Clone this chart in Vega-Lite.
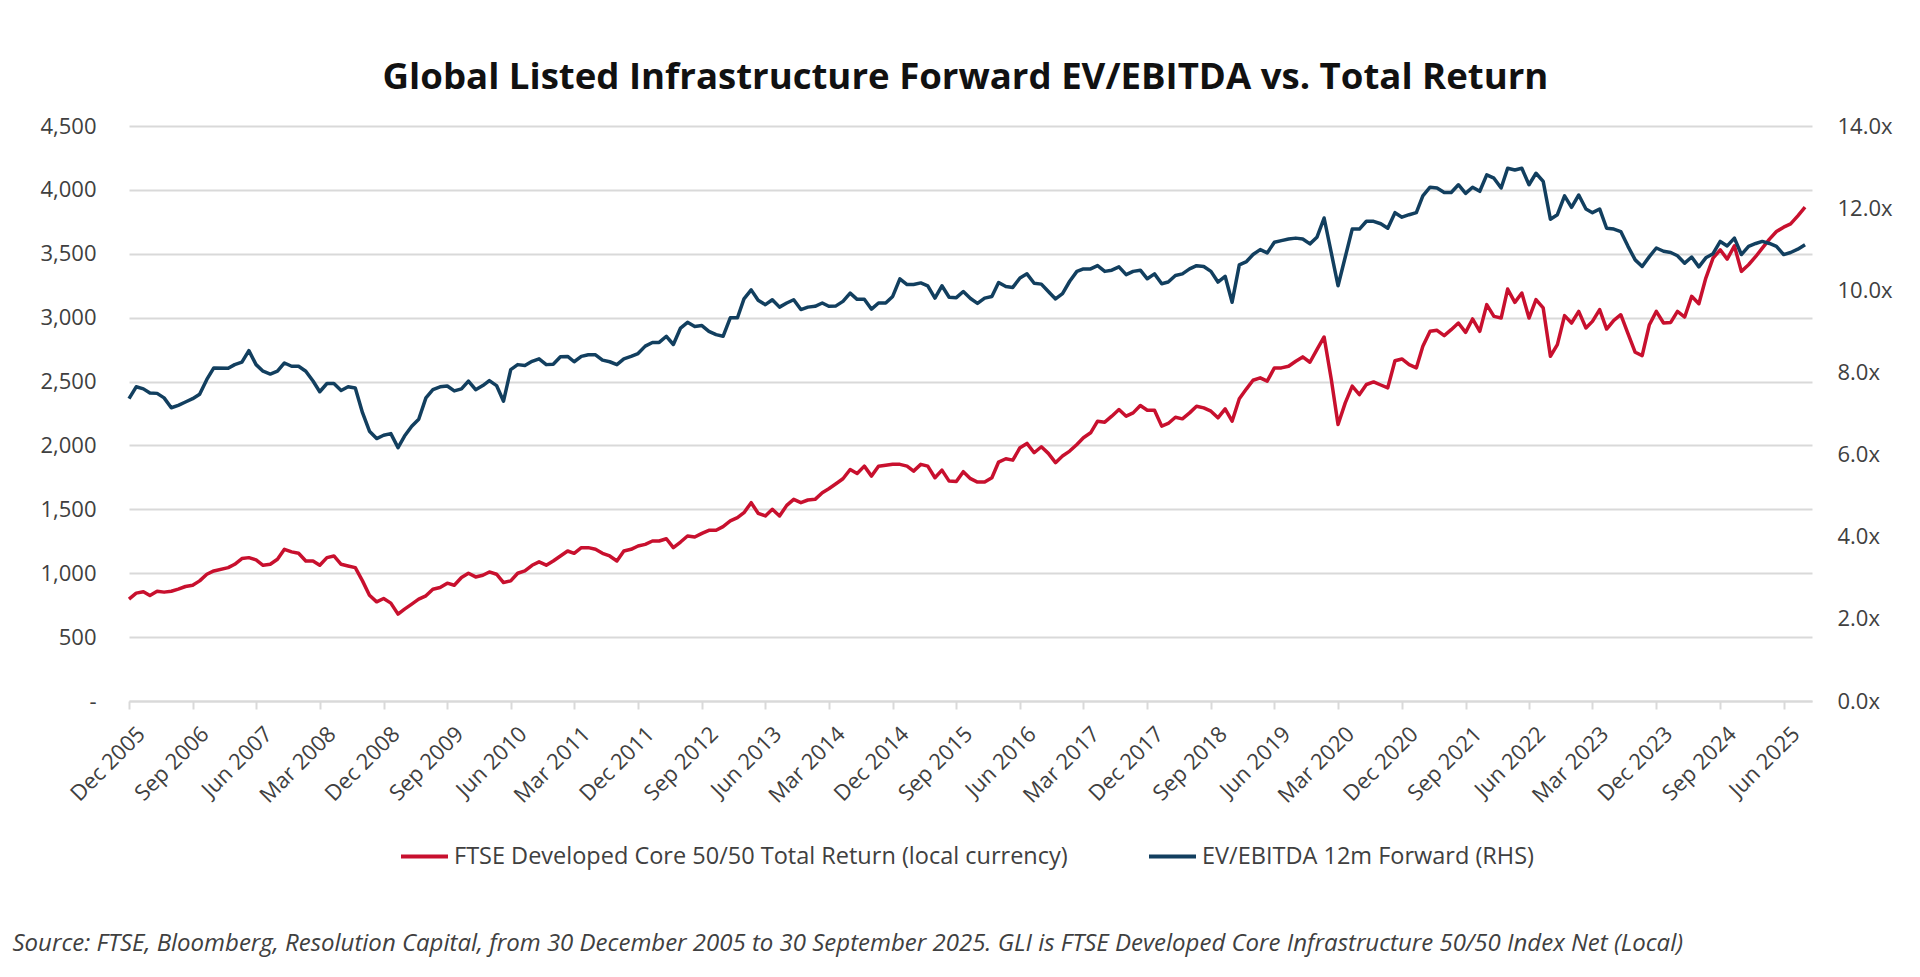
{
  "$schema": "https://vega.github.io/schema/vega-lite/v6.json",
  "width": 1683,
  "height": 575,
  "autosize": {"type": "none"},
  "padding": {"left": 129, "top": 126, "right": 108, "bottom": 276},
  "background": "white",
  "title": {
    "text": "Global Listed Infrastructure Forward EV/EBITDA vs. Total Return",
    "font": "Open Sans",
    "fontSize": 36.6,
    "fontWeight": "bold",
    "color": "#111111",
    "anchor": "middle",
    "frame": "group",
    "offset": 18,
    "dx": -5
  },
  "data": {
    "values": [
      {"d": "2005-12", "tr": 797, "ev": 7.36},
      {"d": "2006-01", "tr": 844, "ev": 7.65},
      {"d": "2006-02", "tr": 855, "ev": 7.6},
      {"d": "2006-03", "tr": 826, "ev": 7.5},
      {"d": "2006-04", "tr": 859, "ev": 7.49},
      {"d": "2006-05", "tr": 852, "ev": 7.38},
      {"d": "2006-06", "tr": 859, "ev": 7.14},
      {"d": "2006-07", "tr": 875, "ev": 7.2},
      {"d": "2006-08", "tr": 896, "ev": 7.28},
      {"d": "2006-09", "tr": 906, "ev": 7.36},
      {"d": "2006-10", "tr": 940, "ev": 7.47},
      {"d": "2006-11", "tr": 992, "ev": 7.83},
      {"d": "2006-12", "tr": 1018, "ev": 8.11},
      {"d": "2007-02", "tr": 1044, "ev": 8.1},
      {"d": "2007-03", "tr": 1070, "ev": 8.19},
      {"d": "2007-04", "tr": 1115, "ev": 8.25},
      {"d": "2007-05", "tr": 1122, "ev": 8.53},
      {"d": "2007-06", "tr": 1104, "ev": 8.19},
      {"d": "2007-07", "tr": 1062, "ev": 8.03},
      {"d": "2007-08", "tr": 1070, "ev": 7.96},
      {"d": "2007-09", "tr": 1109, "ev": 8.03},
      {"d": "2007-10", "tr": 1187, "ev": 8.23},
      {"d": "2007-11", "tr": 1167, "ev": 8.15},
      {"d": "2007-12", "tr": 1156, "ev": 8.15},
      {"d": "2008-01", "tr": 1096, "ev": 8.03},
      {"d": "2008-02", "tr": 1096, "ev": 7.79},
      {"d": "2008-03", "tr": 1062, "ev": 7.53},
      {"d": "2008-04", "tr": 1122, "ev": 7.73},
      {"d": "2008-05", "tr": 1135, "ev": 7.73},
      {"d": "2008-06", "tr": 1070, "ev": 7.56},
      {"d": "2008-07", "tr": 1057, "ev": 7.65},
      {"d": "2008-08", "tr": 1044, "ev": 7.62},
      {"d": "2008-09", "tr": 940, "ev": 7.02},
      {"d": "2008-10", "tr": 828, "ev": 6.57},
      {"d": "2008-11", "tr": 776, "ev": 6.39},
      {"d": "2008-12", "tr": 802, "ev": 6.47},
      {"d": "2009-01", "tr": 766, "ev": 6.51},
      {"d": "2009-02", "tr": 680, "ev": 6.17},
      {"d": "2009-03", "tr": 719, "ev": 6.45},
      {"d": "2009-04", "tr": 758, "ev": 6.69},
      {"d": "2009-05", "tr": 797, "ev": 6.86},
      {"d": "2009-06", "tr": 823, "ev": 7.38},
      {"d": "2009-07", "tr": 875, "ev": 7.58},
      {"d": "2009-08", "tr": 888, "ev": 7.65},
      {"d": "2009-09", "tr": 922, "ev": 7.67},
      {"d": "2009-10", "tr": 906, "ev": 7.55},
      {"d": "2009-11", "tr": 966, "ev": 7.6},
      {"d": "2009-12", "tr": 1000, "ev": 7.79},
      {"d": "2010-01", "tr": 971, "ev": 7.58},
      {"d": "2010-02", "tr": 984, "ev": 7.68},
      {"d": "2010-03", "tr": 1010, "ev": 7.8},
      {"d": "2010-04", "tr": 992, "ev": 7.68},
      {"d": "2010-05", "tr": 927, "ev": 7.3},
      {"d": "2010-06", "tr": 940, "ev": 8.07},
      {"d": "2010-07", "tr": 1000, "ev": 8.19},
      {"d": "2010-08", "tr": 1018, "ev": 8.17},
      {"d": "2010-09", "tr": 1062, "ev": 8.27},
      {"d": "2010-10", "tr": 1089, "ev": 8.33},
      {"d": "2010-11", "tr": 1063, "ev": 8.19},
      {"d": "2010-12", "tr": 1096, "ev": 8.2},
      {"d": "2011-01", "tr": 1135, "ev": 8.38},
      {"d": "2011-02", "tr": 1174, "ev": 8.39},
      {"d": "2011-03", "tr": 1156, "ev": 8.26},
      {"d": "2011-04", "tr": 1200, "ev": 8.39},
      {"d": "2011-05", "tr": 1200, "ev": 8.43},
      {"d": "2011-06", "tr": 1187, "ev": 8.43},
      {"d": "2011-07", "tr": 1156, "ev": 8.3},
      {"d": "2011-08", "tr": 1135, "ev": 8.26},
      {"d": "2011-09", "tr": 1096, "ev": 8.19},
      {"d": "2011-10", "tr": 1174, "ev": 8.33},
      {"d": "2011-11", "tr": 1187, "ev": 8.39},
      {"d": "2011-12", "tr": 1213, "ev": 8.46},
      {"d": "2012-01", "tr": 1226, "ev": 8.64},
      {"d": "2012-02", "tr": 1252, "ev": 8.73},
      {"d": "2012-03", "tr": 1252, "ev": 8.73},
      {"d": "2012-04", "tr": 1270, "ev": 8.88},
      {"d": "2012-05", "tr": 1200, "ev": 8.68},
      {"d": "2012-06", "tr": 1244, "ev": 9.08},
      {"d": "2012-07", "tr": 1291, "ev": 9.22},
      {"d": "2012-08", "tr": 1283, "ev": 9.12},
      {"d": "2012-09", "tr": 1312, "ev": 9.14},
      {"d": "2012-10", "tr": 1336, "ev": 9.0},
      {"d": "2012-11", "tr": 1336, "ev": 8.92},
      {"d": "2012-12", "tr": 1365, "ev": 8.88},
      {"d": "2013-01", "tr": 1409, "ev": 9.33},
      {"d": "2013-02", "tr": 1435, "ev": 9.33},
      {"d": "2013-03", "tr": 1474, "ev": 9.79},
      {"d": "2013-04", "tr": 1552, "ev": 10.01},
      {"d": "2013-05", "tr": 1469, "ev": 9.76},
      {"d": "2013-06", "tr": 1448, "ev": 9.65},
      {"d": "2013-07", "tr": 1500, "ev": 9.77},
      {"d": "2013-08", "tr": 1448, "ev": 9.59},
      {"d": "2013-09", "tr": 1531, "ev": 9.69},
      {"d": "2013-10", "tr": 1578, "ev": 9.77},
      {"d": "2013-11", "tr": 1552, "ev": 9.53},
      {"d": "2013-12", "tr": 1573, "ev": 9.59},
      {"d": "2014-01", "tr": 1578, "ev": 9.61},
      {"d": "2014-02", "tr": 1630, "ev": 9.69},
      {"d": "2014-03", "tr": 1661, "ev": 9.61},
      {"d": "2014-04", "tr": 1700, "ev": 9.62},
      {"d": "2014-05", "tr": 1739, "ev": 9.73},
      {"d": "2014-06", "tr": 1812, "ev": 9.93},
      {"d": "2014-07", "tr": 1781, "ev": 9.78},
      {"d": "2014-08", "tr": 1838, "ev": 9.78},
      {"d": "2014-09", "tr": 1760, "ev": 9.54},
      {"d": "2014-10", "tr": 1838, "ev": 9.69},
      {"d": "2014-11", "tr": 1845, "ev": 9.69},
      {"d": "2014-12", "tr": 1852, "ev": 9.85},
      {"d": "2015-01", "tr": 1852, "ev": 10.28},
      {"d": "2015-02", "tr": 1838, "ev": 10.14},
      {"d": "2015-03", "tr": 1799, "ev": 10.14},
      {"d": "2015-04", "tr": 1852, "ev": 10.18},
      {"d": "2015-05", "tr": 1838, "ev": 10.11},
      {"d": "2015-06", "tr": 1747, "ev": 9.81},
      {"d": "2015-07", "tr": 1807, "ev": 10.11},
      {"d": "2015-08", "tr": 1721, "ev": 9.83},
      {"d": "2015-09", "tr": 1717, "ev": 9.82},
      {"d": "2015-10", "tr": 1795, "ev": 9.97},
      {"d": "2015-11", "tr": 1740, "ev": 9.8},
      {"d": "2015-12", "tr": 1713, "ev": 9.68},
      {"d": "2016-01", "tr": 1713, "ev": 9.81},
      {"d": "2016-02", "tr": 1747, "ev": 9.85},
      {"d": "2016-03", "tr": 1870, "ev": 10.19},
      {"d": "2016-04", "tr": 1896, "ev": 10.09},
      {"d": "2016-05", "tr": 1885, "ev": 10.07},
      {"d": "2016-06", "tr": 1982, "ev": 10.3},
      {"d": "2016-07", "tr": 2016, "ev": 10.4},
      {"d": "2016-08", "tr": 1943, "ev": 10.17},
      {"d": "2016-09", "tr": 1990, "ev": 10.15},
      {"d": "2016-10", "tr": 1938, "ev": 9.97},
      {"d": "2016-11", "tr": 1865, "ev": 9.79},
      {"d": "2016-12", "tr": 1917, "ev": 9.92},
      {"d": "2017-01", "tr": 1956, "ev": 10.22},
      {"d": "2017-02", "tr": 2008, "ev": 10.46},
      {"d": "2017-03", "tr": 2060, "ev": 10.52},
      {"d": "2017-04", "tr": 2099, "ev": 10.52},
      {"d": "2017-05", "tr": 2190, "ev": 10.6},
      {"d": "2017-06", "tr": 2182, "ev": 10.46},
      {"d": "2017-07", "tr": 2229, "ev": 10.49},
      {"d": "2017-08", "tr": 2281, "ev": 10.57},
      {"d": "2017-09", "tr": 2229, "ev": 10.38},
      {"d": "2017-10", "tr": 2255, "ev": 10.46},
      {"d": "2017-11", "tr": 2313, "ev": 10.49},
      {"d": "2017-12", "tr": 2276, "ev": 10.28},
      {"d": "2018-01", "tr": 2276, "ev": 10.4},
      {"d": "2018-02", "tr": 2151, "ev": 10.16},
      {"d": "2018-03", "tr": 2172, "ev": 10.2},
      {"d": "2018-04", "tr": 2221, "ev": 10.36},
      {"d": "2018-05", "tr": 2208, "ev": 10.4},
      {"d": "2018-06", "tr": 2255, "ev": 10.52},
      {"d": "2018-07", "tr": 2307, "ev": 10.6},
      {"d": "2018-08", "tr": 2294, "ev": 10.58},
      {"d": "2018-09", "tr": 2268, "ev": 10.46},
      {"d": "2018-10", "tr": 2216, "ev": 10.2},
      {"d": "2018-11", "tr": 2286, "ev": 10.34},
      {"d": "2018-12", "tr": 2190, "ev": 9.71},
      {"d": "2019-01", "tr": 2365, "ev": 10.62},
      {"d": "2019-02", "tr": 2443, "ev": 10.7},
      {"d": "2019-03", "tr": 2510, "ev": 10.87},
      {"d": "2019-04", "tr": 2529, "ev": 10.99},
      {"d": "2019-05", "tr": 2503, "ev": 10.91},
      {"d": "2019-06", "tr": 2607, "ev": 11.17},
      {"d": "2019-07", "tr": 2607, "ev": 11.21},
      {"d": "2019-08", "tr": 2620, "ev": 11.25},
      {"d": "2019-09", "tr": 2659, "ev": 11.27},
      {"d": "2019-10", "tr": 2693, "ev": 11.25},
      {"d": "2019-11", "tr": 2651, "ev": 11.13},
      {"d": "2019-12", "tr": 2750, "ev": 11.29},
      {"d": "2020-01", "tr": 2849, "ev": 11.76},
      {"d": "2020-02", "tr": 2516, "ev": 10.91},
      {"d": "2020-03", "tr": 2164, "ev": 10.11},
      {"d": "2020-04", "tr": 2333, "ev": 10.81},
      {"d": "2020-05", "tr": 2464, "ev": 11.49},
      {"d": "2020-06", "tr": 2398, "ev": 11.49},
      {"d": "2020-07", "tr": 2477, "ev": 11.68},
      {"d": "2020-08", "tr": 2497, "ev": 11.68},
      {"d": "2020-09", "tr": 2473, "ev": 11.62},
      {"d": "2020-10", "tr": 2451, "ev": 11.51},
      {"d": "2020-11", "tr": 2663, "ev": 11.89},
      {"d": "2020-12", "tr": 2677, "ev": 11.78},
      {"d": "2021-01", "tr": 2633, "ev": 11.84},
      {"d": "2021-02", "tr": 2607, "ev": 11.89},
      {"d": "2021-03", "tr": 2776, "ev": 12.3},
      {"d": "2021-04", "tr": 2893, "ev": 12.51},
      {"d": "2021-05", "tr": 2901, "ev": 12.49},
      {"d": "2021-06", "tr": 2859, "ev": 12.38},
      {"d": "2021-07", "tr": 2906, "ev": 12.38},
      {"d": "2021-08", "tr": 2958, "ev": 12.57},
      {"d": "2021-09", "tr": 2885, "ev": 12.36},
      {"d": "2021-10", "tr": 2990, "ev": 12.51},
      {"d": "2021-11", "tr": 2893, "ev": 12.41},
      {"d": "2021-12", "tr": 3102, "ev": 12.81},
      {"d": "2022-01", "tr": 3010, "ev": 12.73},
      {"d": "2022-02", "tr": 2997, "ev": 12.49},
      {"d": "2022-03", "tr": 3224, "ev": 12.97},
      {"d": "2022-04", "tr": 3120, "ev": 12.93},
      {"d": "2022-05", "tr": 3193, "ev": 12.97},
      {"d": "2022-06", "tr": 2997, "ev": 12.57},
      {"d": "2022-07", "tr": 3141, "ev": 12.85},
      {"d": "2022-08", "tr": 3076, "ev": 12.65},
      {"d": "2022-09", "tr": 2698, "ev": 11.73},
      {"d": "2022-10", "tr": 2789, "ev": 11.84},
      {"d": "2022-11", "tr": 3016, "ev": 12.3},
      {"d": "2022-12", "tr": 2958, "ev": 12.02},
      {"d": "2023-01", "tr": 3049, "ev": 12.32},
      {"d": "2023-02", "tr": 2919, "ev": 11.98},
      {"d": "2023-03", "tr": 2971, "ev": 11.89},
      {"d": "2023-04", "tr": 3063, "ev": 11.98},
      {"d": "2023-05", "tr": 2911, "ev": 11.51},
      {"d": "2023-06", "tr": 2979, "ev": 11.49},
      {"d": "2023-07", "tr": 3023, "ev": 11.43},
      {"d": "2023-08", "tr": 2875, "ev": 11.07},
      {"d": "2023-09", "tr": 2729, "ev": 10.74},
      {"d": "2023-10", "tr": 2703, "ev": 10.58},
      {"d": "2023-11", "tr": 2945, "ev": 10.82},
      {"d": "2023-12", "tr": 3049, "ev": 11.03},
      {"d": "2024-01", "tr": 2958, "ev": 10.95},
      {"d": "2024-02", "tr": 2963, "ev": 10.92},
      {"d": "2024-03", "tr": 3049, "ev": 10.84},
      {"d": "2024-04", "tr": 3005, "ev": 10.66},
      {"d": "2024-05", "tr": 3167, "ev": 10.81},
      {"d": "2024-06", "tr": 3109, "ev": 10.57},
      {"d": "2024-07", "tr": 3310, "ev": 10.79},
      {"d": "2024-08", "tr": 3466, "ev": 10.89},
      {"d": "2024-09", "tr": 3531, "ev": 11.19},
      {"d": "2024-10", "tr": 3458, "ev": 11.08},
      {"d": "2024-11", "tr": 3562, "ev": 11.27},
      {"d": "2024-12", "tr": 3362, "ev": 10.87},
      {"d": "2025-01", "tr": 3414, "ev": 11.07},
      {"d": "2025-02", "tr": 3479, "ev": 11.14},
      {"d": "2025-03", "tr": 3544, "ev": 11.19},
      {"d": "2025-04", "tr": 3615, "ev": 11.14},
      {"d": "2025-05", "tr": 3674, "ev": 11.07},
      {"d": "2025-06", "tr": 3708, "ev": 10.87},
      {"d": "2025-07", "tr": 3734, "ev": 10.92},
      {"d": "2025-08", "tr": 3797, "ev": 11.0},
      {"d": "2025-09", "tr": 3865, "ev": 11.11}
    ]
  },
  "encoding": {
    "x": {
      "field": "d",
      "type": "temporal",
      "scale": {
        "type": "utc",
        "domain": [
          {"year": 2005, "month": 12, "date": 1, "utc": true},
          {"year": 2025, "month": 10, "date": 1, "utc": true}
        ]
      },
      "axis": {
        "title": "Source: FTSE, Bloomberg, Resolution Capital, from 30 December 2005 to 30 September 2025. GLI is FTSE Developed Core Infrastructure 50/50 Index Net (Local)",
        "titleFont": "Open Sans",
        "titleFontSize": 24,
        "titleFontStyle": "italic",
        "titleFontWeight": "normal",
        "titleColor": "#404040",
        "titleAnchor": "start",
        "titleAlign": "left",
        "titleBaseline": "middle",
        "titleX": -117,
        "titleY": 242,
        "format": "%b %Y",
        "labelAngle": -45,
        "labelAlign": "right",
        "labelBaseline": "top",
        "labelPadding": 14,
        "labelOffset": 5,
        "labelOverlap": false,
        "labelBound": false,
        "grid": false,
        "domain": true,
        "domainColor": "#D9D9D9",
        "domainWidth": 2,
        "ticks": true,
        "tickColor": "#D9D9D9",
        "tickWidth": 2,
        "tickSize": 8,
        "values": [
          {"year": 2005, "month": 12, "date": 1, "utc": true},
          {"year": 2006, "month": 9, "date": 1, "utc": true},
          {"year": 2007, "month": 6, "date": 1, "utc": true},
          {"year": 2008, "month": 3, "date": 1, "utc": true},
          {"year": 2008, "month": 12, "date": 1, "utc": true},
          {"year": 2009, "month": 9, "date": 1, "utc": true},
          {"year": 2010, "month": 6, "date": 1, "utc": true},
          {"year": 2011, "month": 3, "date": 1, "utc": true},
          {"year": 2011, "month": 12, "date": 1, "utc": true},
          {"year": 2012, "month": 9, "date": 1, "utc": true},
          {"year": 2013, "month": 6, "date": 1, "utc": true},
          {"year": 2014, "month": 3, "date": 1, "utc": true},
          {"year": 2014, "month": 12, "date": 1, "utc": true},
          {"year": 2015, "month": 9, "date": 1, "utc": true},
          {"year": 2016, "month": 6, "date": 1, "utc": true},
          {"year": 2017, "month": 3, "date": 1, "utc": true},
          {"year": 2017, "month": 12, "date": 1, "utc": true},
          {"year": 2018, "month": 9, "date": 1, "utc": true},
          {"year": 2019, "month": 6, "date": 1, "utc": true},
          {"year": 2020, "month": 3, "date": 1, "utc": true},
          {"year": 2020, "month": 12, "date": 1, "utc": true},
          {"year": 2021, "month": 9, "date": 1, "utc": true},
          {"year": 2022, "month": 6, "date": 1, "utc": true},
          {"year": 2023, "month": 3, "date": 1, "utc": true},
          {"year": 2023, "month": 12, "date": 1, "utc": true},
          {"year": 2024, "month": 9, "date": 1, "utc": true},
          {"year": 2025, "month": 6, "date": 1, "utc": true}
        ]
      }
    }
  },
  "layer": [
    {
      "mark": {"type": "line", "strokeWidth": 3.5, "strokeJoin": "round"},
      "encoding": {
        "y": {
          "field": "tr",
          "type": "quantitative",
          "scale": {"domain": [0, 4500]},
          "axis": {
            "orient": "left",
            "title": null,
            "values": [0, 500, 1000, 1500, 2000, 2500, 3000, 3500, 4000, 4500],
            "labelExpr": "datum.value == 0 ? '-\u00a0\u00a0\u00a0' : format(datum.value, ',')",
            "labelPadding": 33,
            "domain": false,
            "ticks": false,
            "grid": true,
            "gridColor": "#D9D9D9",
            "gridWidth": 2
          }
        },
        "color": {
          "datum": "FTSE Developed Core 50/50 Total Return (local currency)",
          "scale": {
            "domain": ["FTSE Developed Core 50/50 Total Return (local currency)", "EV/EBITDA 12m Forward (RHS)"],
            "range": ["#C8102E", "#123F5F"]
          },
          "legend": {
            "title": null,
            "orient": "none",
            "direction": "horizontal",
            "legendX": 270,
            "legendY": 705,
            "symbolType": "stroke",
            "symbolSize": 2209,
            "symbolStrokeWidth": 4,
            "labelFont": "Open Sans",
            "labelFontSize": 23.5,
            "labelColor": "#404040",
            "labelOffset": 4,
            "labelLimit": 1000,
            "columnPadding": 73,
            "padding": 0
          }
        }
      }
    },
    {
      "mark": {"type": "line", "strokeWidth": 3.5, "strokeJoin": "round"},
      "encoding": {
        "y": {
          "field": "ev",
          "type": "quantitative",
          "scale": {"domain": [0, 14]},
          "axis": {
            "orient": "right",
            "title": null,
            "values": [0, 2, 4, 6, 8, 10, 12, 14],
            "labelExpr": "format(datum.value, '.1f') + 'x'",
            "labelPadding": 25,
            "domain": false,
            "ticks": false,
            "grid": false
          }
        },
        "color": {"datum": "EV/EBITDA 12m Forward (RHS)"}
      }
    }
  ],
  "resolve": {"scale": {"y": "independent"}},
  "config": {
    "view": {"stroke": null},
    "axis": {
      "labelFont": "Open Sans",
      "labelFontSize": 22,
      "labelColor": "#404040"
    }
  }
}
